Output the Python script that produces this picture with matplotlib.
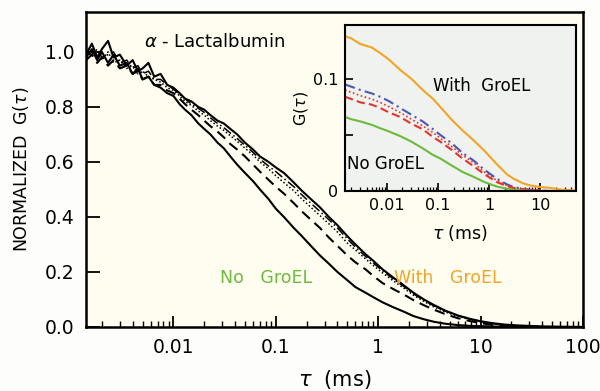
import numpy as np
import matplotlib
matplotlib.use("Agg")
import matplotlib.pyplot as plt
from matplotlib.ticker import FixedLocator, NullFormatter

# ---- main panel: normalized correlation curves ----
tau_main = [0.0014, 0.0016, 0.0018, 0.002, 0.0023, 0.0026, 0.003, 0.0035, 0.004, 0.0045,
            0.005, 0.0057, 0.0065, 0.0075, 0.0087, 0.01, 0.0115, 0.013, 0.015, 0.0175,
            0.02, 0.023, 0.027, 0.031, 0.036, 0.042, 0.05, 0.06, 0.07, 0.085,
            0.1, 0.12, 0.15, 0.18, 0.22, 0.27, 0.33, 0.4, 0.5, 0.6,
            0.75, 0.9, 1.1, 1.4, 1.8, 2.2, 2.8, 3.5, 4.5, 6,
            8, 10, 13, 17, 22, 30, 40, 60, 100]

g_with = [0.99, 1.03, 0.98, 1.01, 1.04, 0.98, 0.99, 0.95, 0.97, 0.93,
          0.94, 0.96, 0.91, 0.92, 0.88, 0.87, 0.85, 0.83, 0.82, 0.80,
          0.79, 0.77, 0.75, 0.74, 0.72, 0.70, 0.67, 0.645, 0.62, 0.60,
          0.58, 0.56, 0.525, 0.495, 0.465, 0.435, 0.40, 0.37, 0.33, 0.30,
          0.265, 0.24, 0.21, 0.18, 0.15, 0.125, 0.10, 0.08, 0.06, 0.042,
          0.029, 0.021, 0.014, 0.009, 0.006, 0.004, 0.002, 0.001, 0.0]

g_dashdot = [1.0, 0.99, 1.01, 0.98, 0.99, 1.0, 0.96, 0.97, 0.94, 0.95,
             0.92, 0.93, 0.90, 0.90, 0.88, 0.865, 0.845, 0.83, 0.81, 0.795,
             0.78, 0.76, 0.74, 0.725, 0.705, 0.685, 0.66, 0.635, 0.61, 0.585,
             0.565, 0.54, 0.51, 0.48, 0.45, 0.42, 0.39, 0.36, 0.32, 0.29,
             0.257, 0.232, 0.205, 0.175, 0.146, 0.121, 0.097, 0.077, 0.058, 0.041,
             0.028, 0.02, 0.013, 0.008, 0.005, 0.003, 0.0015, 0.0005, 0.0]

g_dotted = [0.98, 1.00, 0.99, 0.97, 1.0, 0.96, 0.97, 0.94, 0.95, 0.92,
            0.93, 0.91, 0.90, 0.89, 0.87, 0.86, 0.84, 0.82, 0.805, 0.785,
            0.77, 0.75, 0.73, 0.715, 0.695, 0.675, 0.65, 0.625, 0.60, 0.575,
            0.55, 0.525, 0.495, 0.465, 0.435, 0.405, 0.375, 0.345, 0.305, 0.28,
            0.248, 0.223, 0.197, 0.168, 0.14, 0.116, 0.093, 0.073, 0.055, 0.039,
            0.026, 0.019, 0.012, 0.008, 0.005, 0.003, 0.001, 0.0, 0.0]

g_dashed = [0.97, 0.99, 0.96, 0.98, 0.95, 0.97, 0.94, 0.95, 0.92, 0.93,
            0.90, 0.91, 0.88, 0.88, 0.86, 0.85, 0.83, 0.81, 0.79, 0.77,
            0.75, 0.73, 0.71, 0.69, 0.665, 0.645, 0.62, 0.59, 0.565, 0.535,
            0.51, 0.485, 0.45, 0.42, 0.39, 0.36, 0.325, 0.295, 0.26, 0.235,
            0.21, 0.185, 0.16, 0.138, 0.117, 0.098, 0.079, 0.063, 0.047, 0.032,
            0.021, 0.014, 0.008, 0.004, 0.002, 0.001, 0.0, 0.0, 0.0]

g_no = [0.98, 1.01, 0.97, 1.0, 0.96, 0.99, 0.95, 0.96, 0.92, 0.94,
        0.90, 0.91, 0.88, 0.87, 0.85, 0.84, 0.81, 0.79, 0.77, 0.74,
        0.72, 0.70, 0.67, 0.65, 0.62, 0.59, 0.56, 0.53, 0.50, 0.465,
        0.43, 0.40, 0.36, 0.33, 0.295, 0.26, 0.23, 0.20, 0.17, 0.145,
        0.125, 0.108, 0.09, 0.072, 0.055, 0.04, 0.028, 0.019, 0.012, 0.007,
        0.004, 0.003, 0.002, 0.001, 0.0, 0.0, 0.0, 0.0, 0.0]

# ---- inset: absolute G(tau) ----
tau_ins = [0.0015, 0.002, 0.003, 0.005, 0.0073, 0.011, 0.018, 0.03, 0.05, 0.08,
           0.11, 0.18, 0.3, 0.5, 0.8, 1.4, 2.2, 3, 4.5, 6.3,
           10, 14, 20, 28, 40, 50]
gi_orange = [0.138, 0.136, 0.131, 0.128, 0.123, 0.117, 0.108, 0.100, 0.090, 0.082,
             0.075, 0.064, 0.054, 0.045, 0.036, 0.024, 0.015, 0.011, 0.007, 0.005,
             0.0035, 0.003, 0.002, 0.001, 0.0008, 0.0005]
gi_blue = [0.095, 0.093, 0.090, 0.087, 0.084, 0.080, 0.074, 0.068, 0.062, 0.055,
           0.050, 0.043, 0.034, 0.027, 0.019, 0.011, 0.006, 0.0035, 0.002, 0.001,
           0.0005, 0.0, 0.0, 0.0, 0.0, 0.0]
gi_dotted = [0.090, 0.088, 0.085, 0.082, 0.079, 0.075, 0.070, 0.064, 0.058, 0.052,
             0.047, 0.040, 0.032, 0.025, 0.017, 0.0095, 0.005, 0.003, 0.0018, 0.001,
             0.0005, 0.0, 0.0, 0.0, 0.0, 0.0]
gi_red = [0.084, 0.082, 0.079, 0.077, 0.074, 0.070, 0.066, 0.060, 0.055, 0.048,
          0.044, 0.037, 0.029, 0.022, 0.015, 0.008, 0.0045, 0.0025, 0.0015, 0.001,
          0.0005, 0.0, 0.0, 0.0, 0.0, 0.0]
gi_green = [0.066, 0.064, 0.062, 0.059, 0.056, 0.053, 0.049, 0.044, 0.038, 0.032,
            0.029, 0.023, 0.017, 0.0125, 0.008, 0.004, 0.002, 0.001, 0.0005, 0.0,
            0.0, 0.0, 0.0, 0.0, 0.0, 0.0]

main_xticks = [0.01, 0.1, 1, 10, 100]
main_xlabels = ["0.01", "0.1", "1", "10", "100"]
main_yticks = [0.0, 0.2, 0.4, 0.6, 0.8, 1.0]
ins_xticks = [0.01, 0.1, 1, 10]
ins_xlabels = ["0.01", "0.1", "1", "10"]
ins_yticks = [0.0, 0.05, 0.1]
ins_ylabels = ["0", "", "0.1"]

ORANGE = "#f4a424"
GREEN = "#6cbb3c"
BLUE = "#4d56b3"
RED = "#e2342c"

fig = plt.figure(figsize=(6.0, 3.91), dpi=100)
fig.patch.set_facecolor("#fdfdfb")

ax = fig.add_axes([0.1433, 0.1637, 0.8283, 0.8056])
ax.set_facecolor("#fffdf0")
lw = 1.5
ax.plot(tau_main, g_with, color="black", lw=lw)
ax.plot(tau_main, g_dashdot, color="black", lw=1.1, ls=(0, (6, 2, 1, 2)))
ax.plot(tau_main, g_dotted, color="black", lw=1.1, ls=(0, (1, 1.5)))
ax.plot(tau_main, g_dashed, color="black", lw=lw, ls=(0, (5, 3)))
ax.plot(tau_main, g_no, color="black", lw=lw)

ax.set_xscale("log")
ax.set_xlim(0.0014, 100)
ax.set_ylim(0, 1.145)
ax.xaxis.set_major_locator(FixedLocator(main_xticks))
ax.set_xticklabels(main_xlabels)
ax.xaxis.set_minor_locator(FixedLocator(
    [m * 10.0 ** e for e in range(-3, 2) for m in range(2, 10) if 0.0014 < m * 10.0 ** e < 100]))
ax.xaxis.set_minor_formatter(NullFormatter())
ax.set_yticks(main_yticks)
ax.set_yticklabels(["%.1f" % v for v in main_yticks])
ax.tick_params(axis="both", which="major", direction="in", length=8, width=1.3,
               labelsize=13.5, pad=8)
ax.tick_params(axis="x", which="minor", direction="in", length=4, width=1.0)
ax.tick_params(axis="y", which="major", length=10)
for s in ax.spines.values():
    s.set_linewidth(1.8)

ax.set_xlabel(r"$\tau$  (ms)", fontsize=15, labelpad=8)
ax.set_ylabel(r"NORMALIZED  G($\tau$)", fontsize=12.5, labelpad=10)

ax.text(0.117, 0.905, r"$\alpha$ - Lactalbumin", transform=ax.transAxes,
        fontsize=13, ha="left", va="center")
ax.text(0.27, 0.156, "No   GroEL", transform=ax.transAxes, color=GREEN,
        fontsize=12.5, ha="left", va="center")
ax.text(0.62, 0.156, "With   GroEL", transform=ax.transAxes, color=ORANGE,
        fontsize=12.5, ha="left", va="center")

# inset
ins = fig.add_axes([0.575, 0.5115, 0.385, 0.4246])
ins.set_facecolor("#eff2ee")
ins.plot(tau_ins, gi_orange, color=ORANGE, lw=1.5)
ins.plot(tau_ins, gi_blue, color=BLUE, lw=1.5, ls=(0, (5, 2, 1, 2)))
ins.plot(tau_ins, gi_dotted, color=RED, lw=1.2, ls=(0, (1, 1.5)))
ins.plot(tau_ins, gi_red, color=RED, lw=1.5, ls=(0, (4, 2)))
ins.plot(tau_ins, gi_green, color=GREEN, lw=1.5)
ins.set_xscale("log")
ins.set_xlim(0.0015, 50)
ins.set_ylim(0, 0.148)
ins.xaxis.set_major_locator(FixedLocator(ins_xticks))
ins.set_xticklabels(ins_xlabels)
ins.xaxis.set_minor_locator(FixedLocator(
    [m * 10.0 ** e for e in range(-3, 2) for m in range(2, 10) if 0.0015 < m * 10.0 ** e < 50]))
ins.xaxis.set_minor_formatter(NullFormatter())
ins.set_yticks(ins_yticks)
ins.set_yticklabels(ins_ylabels)
ins.tick_params(axis="both", which="major", direction="in", length=6, width=1.2,
                labelsize=11.5, pad=5)
ins.tick_params(axis="x", which="minor", direction="in", length=3, width=0.9)
for s in ins.spines.values():
    s.set_linewidth(1.5)
ins.set_xlabel(r"$\tau$ (ms)", fontsize=12.5, labelpad=7)
ins.set_ylabel(r"G($\tau$)", fontsize=11.5, labelpad=2)
ins.text(0.38, 0.63, "With  GroEL", transform=ins.transAxes, fontsize=12,
         ha="left", va="center")
ins.text(0.01, 0.16, "No GroEL", transform=ins.transAxes, fontsize=12,
         ha="left", va="center")

fig.savefig("out.png", dpi=100, facecolor=fig.get_facecolor())
